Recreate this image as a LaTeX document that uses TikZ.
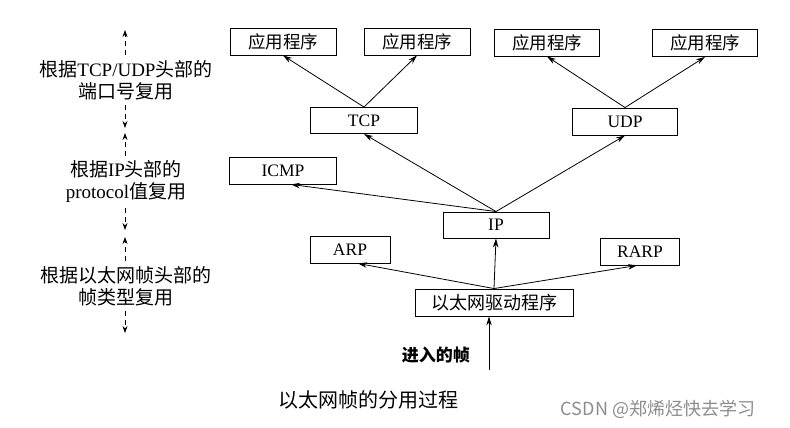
\documentclass[tikz,border=0pt]{standalone}
\usepackage{fontspec}
\setmainfont{Liberation Serif}
\newfontfamily\cjk{Noto Sans CJK SC}
\usetikzlibrary{arrows.meta, positioning}

\begin{document}
\begin{tikzpicture}[x=1pt, y=-1pt,
    box/.style={draw, line width=0.9pt, inner sep=0pt, minimum height=27pt, font=\fontsize{17.5}{20}\selectfont},
    cbox/.style={box, font=\fontsize{17.5}{20}\selectfont\cjk},
    arr/.style={line width=0.8pt, -{Stealth[length=9pt, width=5.5pt]}},
    dasharr/.style={line width=0.7pt, dash pattern=on 5pt off 4pt, -{Stealth[length=7pt, width=5pt]}},
    lbl/.style={align=center, inner sep=2pt, font=\fontsize{19}{22}\selectfont}]
    \useasboundingbox (0,0) rectangle (790,428);

    \node[cbox, minimum width=106pt] (app1) at (283,41.5) {应用程序};
    \node[cbox, minimum width=106pt] (app2) at (417,41.5) {应用程序};
    \node[cbox, minimum width=105pt] (app3) at (547,42.5) {应用程序};
    \node[cbox, minimum width=105pt] (app4) at (705,43) {应用程序};
    \node[box, minimum width=107pt, minimum height=26pt] (tcp) at (364,120.5) {TCP};
    \node[box, minimum width=105pt] (udp) at (625,121.5) {UDP};
    \node[box, minimum width=107pt] (icmp) at (283,170.5) {ICMP};
    \node[box, minimum width=106pt, minimum height=26pt] (ip) at (496,225) {IP};
    \node[box, minimum width=80pt] (arp) at (350,249.5) {ARP};
    \node[box, minimum width=79pt] (rarp) at (640,251.5) {RARP};
    \node[cbox, minimum width=158pt, font=\fontsize{18}{20}\selectfont\cjk] (drv) at (494,302.5) {以太网驱动程序};

    \draw[arr] (tcp.north) -- (app1.south);
    \draw[arr] (tcp.north) -- (app2.south);
    \draw[arr] (udp.north) -- (app3.south);
    \draw[arr] (udp.north) -- (app4.south);
    \draw[arr] (ip.north) -- (tcp.south);
    \draw[arr] (ip.north) -- (udp.south);
    \draw[arr] (ip.north) -- ([xshift=8pt]icmp.south);
    \draw[arr] (drv.north) -- (ip.south);
    \draw[arr] (drv.north) -- ([xshift=8pt]arp.south);
    \draw[arr] (drv.north) -- ([xshift=-3pt]rarp.south);

    % incoming frames
    \coordinate (in) at (489,370);
    \draw[arr] (in) -- (in |- drv.south);
    \node[lbl, anchor=east, font=\fontsize{17}{20}\selectfont\cjk\bfseries] (inlbl) at (472,355) {进入的帧};

    % demultiplexing levels
    \node[lbl] (lv1) at (126,80) {{\cjk 根据}TCP/UDP{\cjk 头部的}\\{\cjk 端口号复用}};
    \node[lbl] (lv2) at (126,182) {{\cjk 根据}IP{\cjk 头部的}\\protocol{\cjk 值复用}};
    \node[lbl] (lv3) at (126,286) {{\cjk 根据以太网帧头部的}\\{\cjk 帧类型复用}};
    \coordinate (t1) at (125,30);
    \coordinate (t2) at (125,128);
    \coordinate (t3) at (125,133);
    \coordinate (t4) at (125,230);
    \coordinate (t5) at (125,237);
    \coordinate (t6) at (125,333);
    \draw[dasharr, shorten <=3pt] (lv1.north -| t1) -- (t1);
    \draw[dasharr, shorten <=3pt] (lv1.south -| t2) -- (t2);
    \draw[dasharr, shorten <=3pt] (lv2.north -| t3) -- (t3);
    \draw[dasharr, shorten <=3pt] (lv2.south -| t4) -- (t4);
    \draw[dasharr, shorten <=3pt] (lv3.north -| t5) -- (t5);
    \draw[dasharr, shorten <=3pt] (lv3.south -| t6) -- (t6);

    \node[font=\fontsize{20}{24}\selectfont] (cap) at (368,400) {\cjk 以太网帧的分用过程};
    \node[font=\fontsize{18}{22}\selectfont\cjk, text=black!45] (wm) at (658,409) {CSDN @郑烯烃快去学习};
\end{tikzpicture}
\end{document}
